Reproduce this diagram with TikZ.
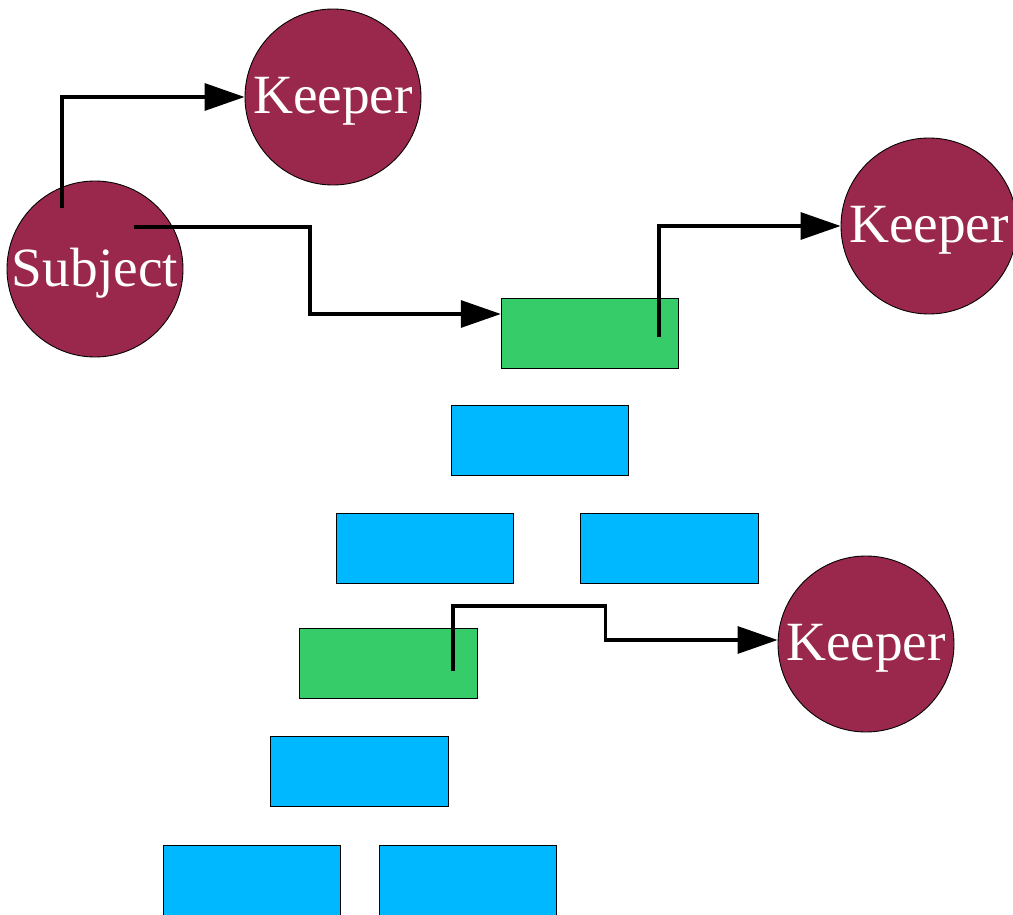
\documentclass[tikz,border=0pt]{standalone}
\usepackage{fontspec}
\setmainfont{Liberation Serif}
\usepackage{tikz}
\usetikzlibrary{arrows.meta, positioning, calc}
\definecolor{mMaroon}{HTML}{99284C}
\definecolor{mLeaf}{HTML}{36CC6A}
\definecolor{mSky}{HTML}{00B8FF}

\begin{document}
\begin{tikzpicture}[x=0.2mm, y=-0.2mm,
    party/.style={circle, draw, line width=0.5pt, fill=mMaroon, minimum size=35.2mm, inner sep=0pt},
    partytext/.style={text=white, font=\fontsize{31.5}{36}\selectfont, inner sep=0pt, yshift=-0.8mm},
    slot/.style={draw, line width=0.5pt, minimum width=35.5mm, minimum height=14mm, inner sep=0pt},
    link/.style={line width=0.65mm, -{Triangle[length=8mm, width=5.4mm]}}]
    \useasboundingbox (0,0) rectangle (1013,915);
    % parties
    \node[party, label={[partytext]center:Subject}] (subj) at (95,269) {};
    \node[party, label={[partytext]center:Keeper}] (k1) at (333,97) {};
    \node[party, label={[partytext]center:Keeper}] (k2) at (929,226) {};
    \node[party, label={[partytext]center:Keeper}] (k3) at (866,644) {};
    % green slots
    \node[slot, fill=mLeaf] (g1) at (590,333) {};
    \node[slot, fill=mLeaf] (g2) at (388.5,663) {};
    % blue slots
    \foreach \x/\y [count=\i] in {540/440, 425/548, 669.5/548, 359.5/771, 252/880, 468/880} {
      \node[slot, fill=mSky] (b\i) at (\x,\y) {};
    }
    % links
    \draw[link] ($(subj)+(-33,-61)$) |- (k1.west);
    \draw[link] ($(subj)+(39,-42)$) -- ++(176,0) |- ($(g1.west)+(0,-19)$);
    \draw[link] ($(g1)+(69,4)$) |- (k2.west);
    \draw[link] ($(g2)+(64.5,8)$) -- ++(0,-65) -| ($(k3.west)+(-172,-4)$) -- ($(k3.west)+(0,-4)$);
\end{tikzpicture}
\end{document}
